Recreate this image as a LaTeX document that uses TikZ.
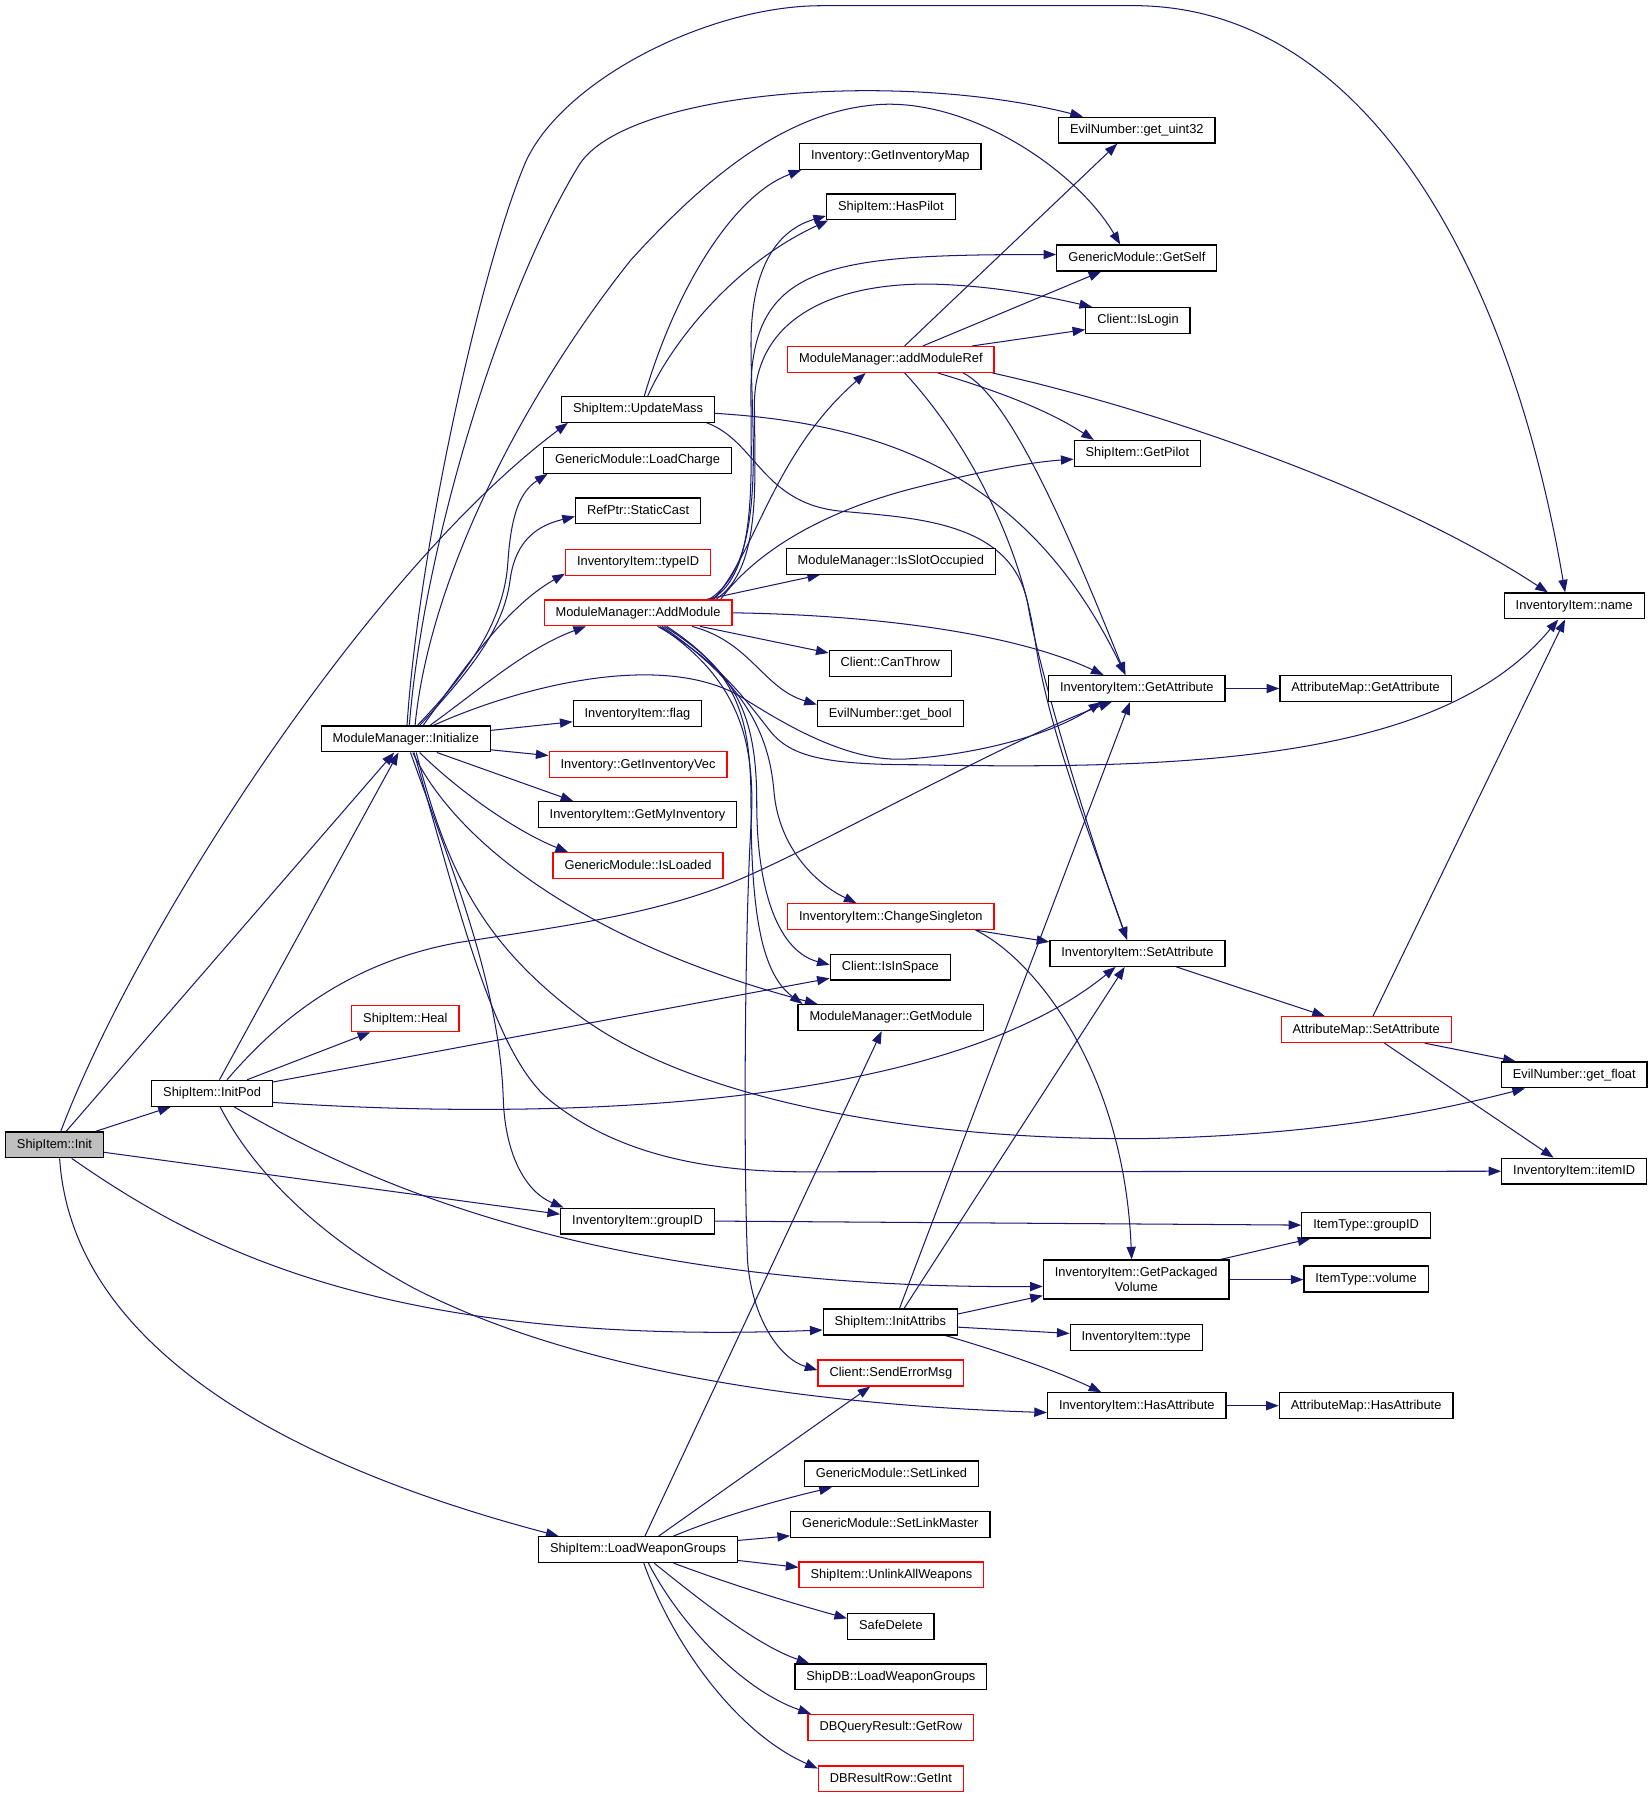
\documentclass[tikz,border=0pt]{standalone}
\usepackage{fontspec}
\setmainfont{Liberation Sans}
\usetikzlibrary{arrows.meta}
\definecolor{edgec}{RGB}{25,25,112}
\definecolor{initfill}{RGB}{191,191,191}
\pgfdeclarelayer{bg}
\pgfsetlayers{bg,main}
\begin{document}
\begin{tikzpicture}[x=1pt,y=-1pt,
  box/.style={draw=black, line width=1.1pt, fill=white, rectangle, inner xsep=10pt, inner ysep=0pt,
    minimum height=22.5pt, font=\fontsize{11.2}{13}\selectfont, text height=8.2pt, text depth=2.3pt},
  rbox/.style={box, draw=red},
  boxtwo/.style={draw=black, line width=1.1pt, fill=white, rectangle, inner xsep=10pt, inner ysep=2pt,
    minimum height=34pt, align=center, font=\fontsize{11.2}{12.5}\selectfont},
  e/.style={draw=edgec, line width=0.9pt, -{Triangle[length=11pt,width=8pt]}},
]
\useasboundingbox (0,0) rectangle (1440,1567.3);

% ---------- nodes ----------
\node[box,fill=initfill] (init) at (47.5,998.5) {ShipItem::Init};
\node[box] (initpod) at (185,953.5) {ShipItem::InitPod};
\node[box] (initialize) at (354,644.5) {ModuleManager::Initialize};
\node[rbox] (heal) at (353.5,888.5) {ShipItem::Heal};
\node[box] (updatemass) at (556.5,357) {ShipItem::UpdateMass};
\node[box] (loadcharge) at (556,401.5) {GenericModule::LoadCharge};
\node[box] (staticcast) at (556.5,445.5) {RefPtr::StaticCast};
\node[rbox] (typeid) at (556.5,490.5) {InventoryItem::typeID};
\node[rbox] (addmodule) at (556.5,534.5) {ModuleManager::AddModule};
\node[box] (flag) at (556,622.5) {InventoryItem::flag};
\node[rbox] (getinvvec) at (556.5,667) {Inventory::GetInventoryVec};
\node[box] (getmyinv) at (556,710.5) {InventoryItem::GetMyInventory};
\node[rbox] (isloaded) at (556.5,755) {GenericModule::IsLoaded};
\node[box] (groupid) at (556,1065) {InventoryItem::groupID};
\node[box] (loadwg) at (556.5,1351.5) {ShipItem::LoadWeaponGroups};
\node[box] (getinvmap) at (776.5,136.5) {Inventory::GetInventoryMap};
\node[box] (haspilot) at (777,180.5) {ShipItem::HasPilot};
\node[rbox] (addmoduleref) at (777,313.5) {ModuleManager::addModuleRef};
\node[box] (isslotocc) at (777,489.5) {ModuleManager::IsSlotOccupied};
\node[box] (canthrow) at (776.5,578.5) {Client::CanThrow};
\node[box] (getbool) at (776.5,622.5) {EvilNumber::get\_bool};
\node[rbox] (changesingleton) at (777,799.5) {InventoryItem::ChangeSingleton};
\node[box] (isinspace) at (776.5,843.5) {Client::IsInSpace};
\node[box] (getmodule) at (777,887.5) {ModuleManager::GetModule};
\node[box] (initattribs) at (776.5,1153) {ShipItem::InitAttribs};
\node[rbox] (senderrormsg) at (777,1197.5) {Client::SendErrorMsg};
\node[box] (setlinked) at (777.5,1285.5) {GenericModule::SetLinked};
\node[box] (setlinkmaster) at (776.5,1329.5) {GenericModule::SetLinkMaster};
\node[rbox] (unlinkall) at (777.5,1373.5) {ShipItem::UnlinkAllWeapons};
\node[box] (safedelete) at (777,1418.5) {SafeDelete};
\node[box] (shipdblwg) at (777,1462.5) {ShipDB::LoadWeaponGroups};
\node[rbox] (getrow) at (777,1506.5) {DBQueryResult::GetRow};
\node[rbox] (getint) at (777,1551.5) {DBResultRow::GetInt};
\node[box] (getuint32) at (991.5,113.5) {EvilNumber::get\_uint32};
\node[box] (getself) at (991.5,225) {GenericModule::GetSelf};
\node[box] (islogin) at (992.5,279.5) {Client::IsLogin};
\node[box] (getpilot) at (992,395.5) {ShipItem::GetPilot};
\node[box] (getattr) at (991.5,600.5) {InventoryItem::GetAttribute};
\node[box] (setattr) at (992,831.5) {InventoryItem::SetAttribute};
\node[boxtwo] (getpkgvol) at (991,1116) {InventoryItem::GetPackaged\\Volume};
\node[box] (type) at (991,1166.5) {InventoryItem::type};
\node[box] (hasattr) at (991.5,1226) {InventoryItem::HasAttribute};
\node[box] (amgetattr) at (1191,600.5) {AttributeMap::GetAttribute};
\node[rbox] (amsetattr) at (1191.5,898) {AttributeMap::SetAttribute};
\node[box] (itgroupid) at (1191.5,1068.5) {ItemType::groupID};
\node[box] (itvolume) at (1191.5,1115.5) {ItemType::volume};
\node[box] (amhasattr) at (1191.5,1226) {AttributeMap::HasAttribute};
\node[box] (name) at (1373,528.5) {InventoryItem::name};
\node[box] (getfloat) at (1373,937.5) {EvilNumber::get\_float};
\node[box] (itemid) at (1373,1021.5) {InventoryItem::itemID};

\begin{pgfonlayer}{bg}
% ---------- ShipItem::Init ----------
\draw[e] (init) -- (initpod);
\draw[e] (init) -- (initialize);
\draw[e] ([xshift=5.5pt]init.north) .. controls (120,810) and (320,500) .. ([xshift=6pt]updatemass.south west);
\draw[e] ([yshift=-6.5pt]init.east) -- ([yshift=6pt]groupid.west);
\draw[e] ([xshift=15pt]init.south) .. controls (170,1085) and (330,1175) .. ([yshift=-7pt]initattribs.west);
\draw[e] ([xshift=4.5pt]init.south) .. controls (62,1165) and (230,1272) .. ([xshift=18pt]loadwg.north west);

% ---------- ShipItem::InitPod ----------
\draw[e] (initpod) -- (initialize);
\draw[e] (initpod) -- (heal);
\draw[e] ([xshift=13pt]initpod.north) .. controls (240,893) and (300,840) .. (400,822)
   .. controls (490,808) and (575,797) .. (645,767)
   .. controls (720,735) and (880,645) .. ([xshift=-22pt]getattr.south);
\draw[e] (initpod) -- (isinspace);
\draw[e] ([yshift=-8pt]initpod.east) .. controls (520,980) and (830,960) .. ([xshift=-19pt]setattr.south);
\draw[e] ([xshift=19pt]initpod.south) .. controls (300,1020) and (500,1125) .. ([yshift=-6pt]getpkgvol.west);
\draw[e] ([xshift=7pt]initpod.south) .. controls (225,1030) and (290,1085) .. (360,1123)
   .. controls (500,1195) and (700,1225) .. ([yshift=-6pt]hasattr.west);

% ---------- ModuleManager::Initialize ----------
\draw[e] ([xshift=1pt]initialize.north) .. controls (365,480) and (420,230) .. (459,140)
   .. controls (493,68) and (620,5) .. (716,5) -- (995,5)
   .. controls (1200,10) and (1320,250) .. ([xshift=-8pt]name.north);
\draw[e] ([xshift=3pt]initialize.north) .. controls (370,470) and (440,250) .. (505,144)
   .. controls (545,80) and (780,60) .. ([xshift=-47pt]getuint32.north);
\draw[e] ([xshift=8pt]initialize.north) .. controls (375,500) and (460,340) .. (550,227)
   .. controls (620,150) and (690,95) .. (770,91)
   .. controls (850,88) and (940,150) .. ([xshift=-14.5pt]getself.north);
\draw[e] ([xshift=10pt]initialize.north) .. controls (410,585) and (440,540) .. (443,490)
   .. controls (446,445) and (455,428) .. ([xshift=4pt]loadcharge.south west);
\draw[e] ([xshift=12pt]initialize.north) .. controls (415,580) and (440,545) .. (445,505)
   .. controls (450,470) and (470,458) .. ([yshift=-5pt]staticcast.west);
\draw[e] ([xshift=15pt]initialize.north) .. controls (400,590) and (440,530) .. ([yshift=2pt]typeid.south west);
\draw[e] ([xshift=21pt]initialize.north) .. controls (420,600) and (460,565) .. ([xshift=37pt]addmodule.south west);
\draw[e] ([xshift=24pt]initialize.north) .. controls (450,600) and (580,565) .. (650,610)
   .. controls (685,632) and (740,665) .. (790,662)
   .. controls (840,659) and (910,645) .. ([xshift=-31pt]getattr.south);
\draw[e] ([yshift=7.5pt]initialize.east) -- ([yshift=-7pt]flag.west);
\draw[e] ([yshift=-9.5pt]initialize.east) -- ([yshift=8pt]getinvvec.west);
\draw[e] ([xshift=27pt]initialize.south) -- ([xshift=-56pt]getmyinv.north);
\draw[e] ([xshift=12pt]initialize.south) .. controls (400,690) and (450,725) .. ([xshift=-61pt]isloaded.north);
\draw[e] ([xshift=6pt]initialize.south) .. controls (400,740) and (520,825) .. ([xshift=-64pt]getmodule.north);
\draw[e] ([xshift=4pt]initialize.south) .. controls (395,760) and (436,860) .. (439,960)
   .. controls (441,1010) and (460,1040) .. ([xshift=3pt]groupid.north west);
\draw[e] ([xshift=7pt]initialize.south) .. controls (400,790) and (430,920) .. (480,960)
   .. controls (530,1000) and (600,1022) .. (700,1022) -- (itemid.west);
\draw[e] ([xshift=9pt]initialize.south) .. controls (390,760) and (420,820) .. (500,882)
   .. controls (600,960) and (800,995) .. (1000,993)
   .. controls (1150,990) and (1250,970) .. ([xshift=-43pt]getfloat.south);

% ---------- ShipItem::UpdateMass ----------
\draw[e] ([xshift=5.5pt]updatemass.north) .. controls (590,250) and (640,170) .. ([xshift=2pt]getinvmap.south west);
\draw[e] ([xshift=8.5pt]updatemass.north) .. controls (585,300) and (640,230) .. ([xshift=2pt]haspilot.south west);
\draw[e] ([yshift=-3.5pt]updatemass.east) .. controls (780,370) and (900,420) .. ([xshift=-10pt]getattr.north);
\draw[e] ([xshift=60pt]updatemass.south) .. controls (660,385) and (665,440) .. (735,446)
   .. controls (800,452) and (885,455) .. (897,530)
   .. controls (905,580) and (950,730) .. ([xshift=-9pt]setattr.north);

% ---------- ModuleManager::AddModule ----------
\draw[e] ([xshift=62pt]addmodule.north) .. controls (670,490) and (655,380) .. (655,300)
   .. controls (655,230) and (680,200) .. ([yshift=4pt]haspilot.south west);
\draw[e] ([xshift=66pt]addmodule.north) .. controls (660,480) and (675,395) .. ([xshift=-22pt]addmoduleref.south);
\draw[e] ([xshift=64pt]addmodule.north) .. controls (660,500) and (655,420) .. (655,350)
   .. controls (652,230) and (720,222) .. ([yshift=3pt]getself.west);
\draw[e] ([xshift=68pt]addmodule.north) .. controls (665,495) and (658,420) .. (658,350)
   .. controls (660,270) and (740,245) .. (820,248)
   .. controls (870,250) and (910,258) .. ([xshift=6pt]islogin.north west);
\draw[e] ([xshift=72pt]addmodule.north) .. controls (660,480) and (720,445) .. (800,425)
   .. controls (860,410) and (900,403) .. ([yshift=-5pt]getpilot.west);
\draw[e] ([xshift=60pt]addmodule.north) -- ([xshift=30pt]isslotocc.south west);
\draw[e] ([xshift=54pt]addmodule.south) -- ([yshift=9pt]canthrow.west);
\draw[e] ([xshift=47pt]addmodule.south) .. controls (655,560) and (665,600) .. ([yshift=8pt]getbool.west);
\draw[e] (addmodule.east) .. controls (750,536) and (880,550) .. ([xshift=-29pt]getattr.north);
\draw[e] ([xshift=21pt]addmodule.south) .. controls (640,590) and (670,630) .. (675,690)
   .. controls (679,738) and (710,770) .. ([xshift=-30pt]changesingleton.north);
\draw[e] ([xshift=23pt]addmodule.south) .. controls (640,585) and (660,620) .. (660,700)
   .. controls (660,780) and (680,830) .. ([yshift=2pt]isinspace.west);
\draw[e] ([xshift=25pt]addmodule.south) .. controls (640,585) and (655,620) .. (655,700)
   .. controls (655,800) and (665,850) .. ([xshift=-77pt]getmodule.north);
\draw[e] ([xshift=19pt]addmodule.south) .. controls (640,590) and (660,640) .. (655,720)
   .. controls (650,800) and (648,1000) .. (652,1100)
   .. controls (656,1150) and (680,1185) .. ([yshift=2.5pt]senderrormsg.west);
\draw[e] ([xshift=17pt]addmodule.south) .. controls (625,575) and (650,610) .. (672,638)
   .. controls (690,660) and (720,667) .. (800,667)
   .. controls (1050,672) and (1260,660) .. ([xshift=-14pt]name.south);

% ---------- ShipItem::LoadWeaponGroups ----------
\draw[e] ([xshift=6pt]loadwg.north) -- ([xshift=-8pt]getmodule.south);
\draw[e] ([xshift=18pt]loadwg.north) -- ([xshift=-18pt]senderrormsg.south);
\draw[e] ([xshift=31pt]loadwg.north) .. controls (630,1322) and (680,1308) .. ([xshift=-52pt]setlinked.south);
\draw[e] ([yshift=8pt]loadwg.east) -- ([yshift=-10pt]setlinkmaster.west);
\draw[e] ([yshift=-9.5pt]loadwg.east) -- ([yshift=6.5pt]unlinkall.west);
\draw[e] ([xshift=31pt]loadwg.south) .. controls (640,1383) and (690,1398) .. ([yshift=7pt]safedelete.west);
\draw[e] ([xshift=14pt]loadwg.south) .. controls (610,1395) and (660,1435) .. ([xshift=13pt]shipdblwg.north west);
\draw[e] ([xshift=9pt]loadwg.south) .. controls (595,1420) and (650,1475) .. ([xshift=3pt]getrow.north west);
\draw[e] ([xshift=5pt]loadwg.south) .. controls (585,1430) and (640,1510) .. ([yshift=9pt]getint.west);

% ---------- ModuleManager::addModuleRef ----------
\draw[e] ([xshift=12pt]addmoduleref.north) -- ([xshift=-17pt]getuint32.south);
\draw[e] ([xshift=28pt]addmoduleref.north) -- ([xshift=-31pt]getself.south);
\draw[e] ([xshift=71pt]addmoduleref.north) -- ([yshift=-8pt]islogin.west);
\draw[e] ([xshift=-2pt]addmoduleref.south east) .. controls (1000,355) and (1210,425) .. ([xshift=-23pt]name.north);
\draw[e] ([xshift=41pt]addmoduleref.south) .. controls (860,338) and (910,355) .. ([xshift=-38pt]getpilot.north);
\draw[e] ([xshift=63pt]addmoduleref.south) .. controls (880,345) and (930,460) .. ([xshift=-10pt]getattr.north);
\draw[e] ([xshift=12pt]addmoduleref.south) .. controls (840,380) and (890,470) .. (903,560)
   .. controls (915,640) and (955,740) .. ([xshift=-9pt]setattr.north);

% ---------- InventoryItem::ChangeSingleton ----------
\draw[e] ([xshift=74pt]changesingleton.south) -- ([yshift=10pt]setattr.west);
\draw[e] ([xshift=74pt]changesingleton.south) .. controls (900,835) and (980,930) .. ([xshift=-4pt]getpkgvol.north);

% ---------- ShipItem::InitAttribs ----------
\draw[e] ([xshift=8pt]initattribs.north) -- ([xshift=-6pt]getattr.south);
\draw[e] ([xshift=12pt]initattribs.north) -- ([xshift=-11pt]setattr.south);
\draw[e] ([yshift=7pt]initattribs.east) -- ([yshift=-14pt]getpkgvol.west);
\draw[e] ([yshift=-4.5pt]initattribs.east) -- ([yshift=3.5pt]type.west);
\draw[e] ([xshift=48pt]initattribs.south) .. controls (870,1178) and (920,1195) .. ([xshift=-31pt]hasattr.north);

% ---------- right part ----------
\draw[e] ([xshift=-8pt]getpkgvol.north east) -- ([xshift=8pt]itgroupid.south west);
\draw[e] (getpkgvol.east) -- (getpkgvol.east -| itvolume.west);
\draw[e] (groupid.east) -- (itgroupid.west);
\draw[e] (getattr) -- (amgetattr);
\draw[e] ([xshift=34pt]setattr.south) -- ([xshift=-36pt]amsetattr.north);
\draw[e] (hasattr) -- (amhasattr);
\draw[e] ([xshift=6pt]amsetattr.north) -- ([xshift=-8pt]name.south);
\draw[e] ([xshift=51pt]amsetattr.south) -- ([xshift=-51pt]getfloat.north);
\draw[e] ([xshift=16pt]amsetattr.south) -- ([xshift=-18pt]itemid.north);
\end{pgfonlayer}
\end{tikzpicture}
\end{document}
